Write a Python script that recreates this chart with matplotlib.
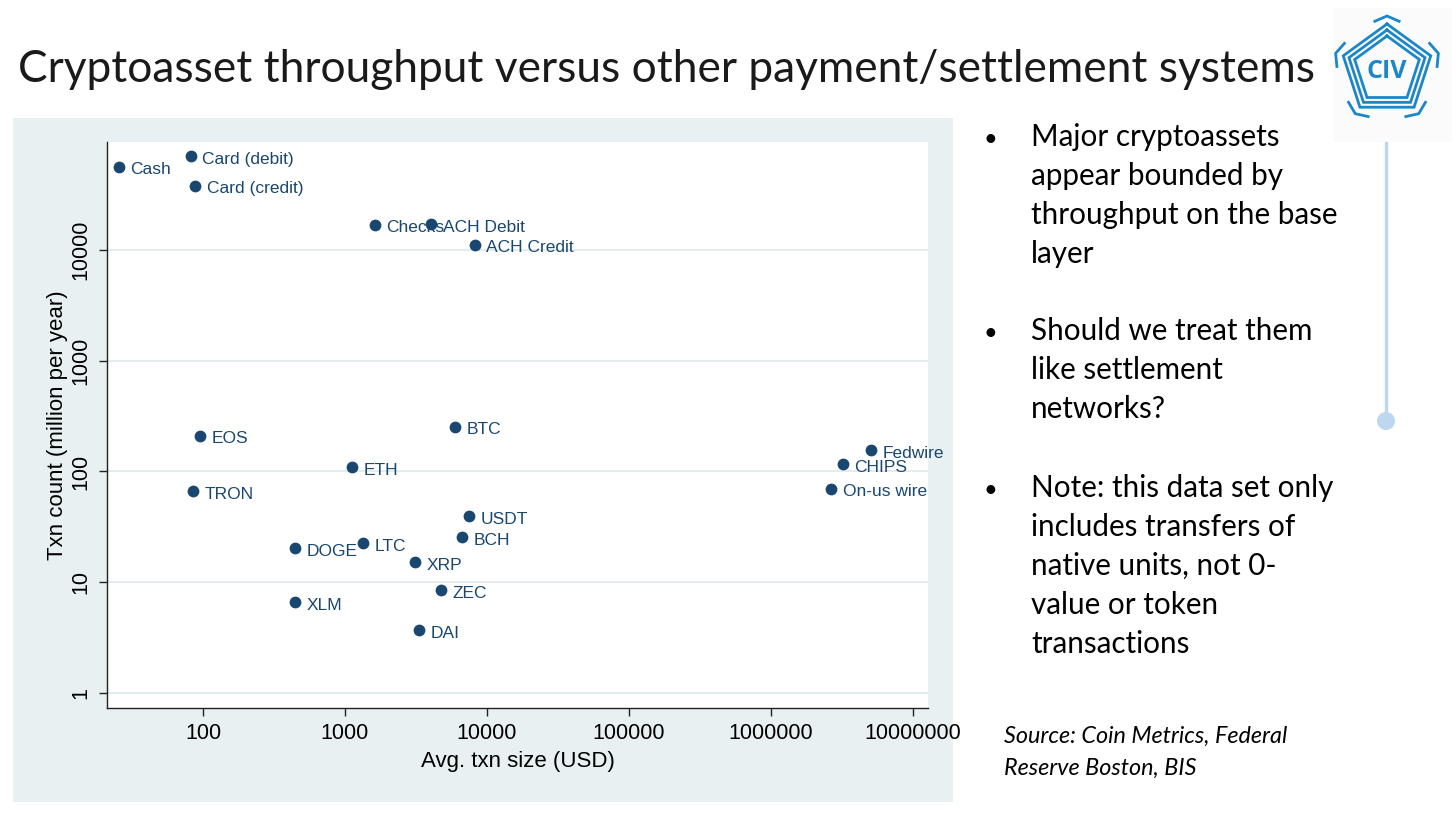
import numpy as np
import matplotlib.pyplot as plt
from matplotlib.patches import Rectangle, Circle
from matplotlib.ticker import FixedLocator, NullLocator, FixedFormatter

# values (avg txn size in USD, txn count in millions per year)
names = ["Cash", "Card (debit)", "Card (credit)", "Checks", "ACH Debit", "ACH Credit",
         "EOS", "TRON", "ETH", "BTC", "USDT", "BCH", "LTC", "DOGE", "XRP", "ZEC",
         "XLM", "DAI", "Fedwire", "CHIPS", "On-us wire"]
avg_size = [25.6, 82, 88, 1625, 4040, 8220,
            95, 85, 1120, 5960, 7470, 6670, 1340, 445, 3110, 4740,
            445, 3320, 5.06e6, 3.21e6, 2.65e6]
txn_count = [56000, 70000, 37800, 16800, 17100, 11100,
             211, 66, 109, 254, 39.4, 25.4, 22.4, 20.2, 15.1, 8.47,
             6.6, 3.7, 155, 116, 70]

x_ticks = [100, 1000, 10000, 100000, 1000000, 10000000]
y_ticks = [1, 10, 100, 1000, 10000]

bullets = [
    ["Major cryptoassets", "appear bounded by", "throughput on the base", "layer"],
    ["Should we treat them", "like settlement", "networks?"],
    ["Note: this data set only", "includes transfers of", "native units, not 0-",
     "value or token", "transactions"],
]
source_lines = ["Source: Coin Metrics, Federal", "Reserve Boston, BIS"]

navy = "#1a476f"
W, H = 1456, 813

fig = plt.figure(figsize=(W / 100, H / 100), dpi=100)

# overlay in pixel coordinates for the slide parts
bg = fig.add_axes([0, 0, 1, 1])
bg.set_xlim(0, W)
bg.set_ylim(H, 0)
bg.axis("off")
bg.add_patch(Rectangle((13, 118), 940, 684, color="#e8f0f2", lw=0))

bg.text(18, 82, "Cryptoasset throughput versus other payment/settlement systems",
        fontsize=31.9, family="Lato", fontweight="normal", va="baseline",
        color="#1a1a1a")

# bullets
bl = [[146, 185, 224, 263], [340, 379, 418], [497, 536, 575, 614, 653]]
for lines, ys in zip(bullets, bl):
    bg.text(990, ys[0], "\u2022", fontsize=17, family="Lato", va="baseline", ha="center")
    for line, y in zip(lines, ys):
        bg.text(1031, y, line, fontsize=21.3, family="Lato", va="baseline")
for line, y in zip(source_lines, [743, 775]):
    bg.text(1004, y, line, fontsize=16.8, family="Lato", style="italic", va="baseline")

# logo
logo_c = "#1b87c9"
bg.add_patch(Rectangle((1333, 8), 119, 134, color="#fbfbfb", lw=0))
cx, cy = 1387, 70
ang = np.deg2rad(-90 + 72 * np.arange(6))
for r in [34, 40, 46]:
    bg.plot(cx + r * np.cos(ang), cy + r * np.sin(ang), color=logo_c, lw=2.0,
            solid_joinstyle="miter")
r = 54
for k in range(5):
    a0, a1, a2 = ang[k] - np.deg2rad(14), ang[k], ang[k] + np.deg2rad(14)
    px = [cx + r * np.cos(a0) * 0.93, cx + r * np.cos(a1), cx + r * np.cos(a2) * 0.93]
    py = [cy + r * np.sin(a0) * 0.93, cy + r * np.sin(a1), cy + r * np.sin(a2) * 0.93]
    bg.plot(px, py, color=logo_c, lw=2.0)
bg.text(cx, cy + 1, "CIV", fontsize=18, fontweight="bold", family="Open Sans",
        color=logo_c, ha="center", va="center")

# vertical connector
bg.plot([1386, 1386], [143, 420], color="#bdd7ee", lw=2.4)
bg.add_patch(Circle((1386, 421), 9, color="#bdd7ee", lw=0))

# scatter chart
ax = fig.add_axes([107 / W, 1 - 708 / H, (928 - 107) / W, (708 - 142) / H])
ax.set_facecolor("white")
ax.set_xscale("log")
ax.set_yscale("log")
ax.set_xlim(21.1, 1.276e7)
ax.set_ylim(0.733, 94000)

ax.scatter(avg_size, txn_count, s=72, color=navy, zorder=3, lw=0)
for n, xv, yv in zip(names, avg_size, txn_count):
    ax.annotate(n, (xv, yv), xytext=(8.3, -2.2), textcoords="offset points",
                fontsize=12.5, family="Liberation Sans", color=navy,
                ha="left", va="center", zorder=4)

ax.xaxis.set_major_locator(FixedLocator(x_ticks))
ax.xaxis.set_major_formatter(FixedFormatter([str(v) for v in x_ticks]))
ax.yaxis.set_major_locator(FixedLocator(y_ticks))
ax.yaxis.set_major_formatter(FixedFormatter([str(v) for v in y_ticks]))
ax.xaxis.set_minor_locator(NullLocator())
ax.yaxis.set_minor_locator(NullLocator())

ax.grid(axis="y", color="#e0eaee", lw=1.3)
ax.set_axisbelow(True)
for s in ["top", "right"]:
    ax.spines[s].set_visible(False)
for s in ["left", "bottom"]:
    ax.spines[s].set_color("#222222")
    ax.spines[s].set_linewidth(1.0)

ax.tick_params(axis="both", direction="out", length=6, width=1, color="#222222",
               labelsize=15.5, pad=5)
for lbl in ax.get_xticklabels() + ax.get_yticklabels():
    lbl.set_family("Liberation Sans")
plt.setp(ax.get_yticklabels(), rotation=90, va="center")

ax.set_xlabel("Avg. txn size (USD)", fontsize=16, family="Liberation Sans", labelpad=5)
ax.set_ylabel("Txn count (million per year)", fontsize=16, family="Liberation Sans",
              labelpad=2)

fig.savefig("out.png", dpi=100)
